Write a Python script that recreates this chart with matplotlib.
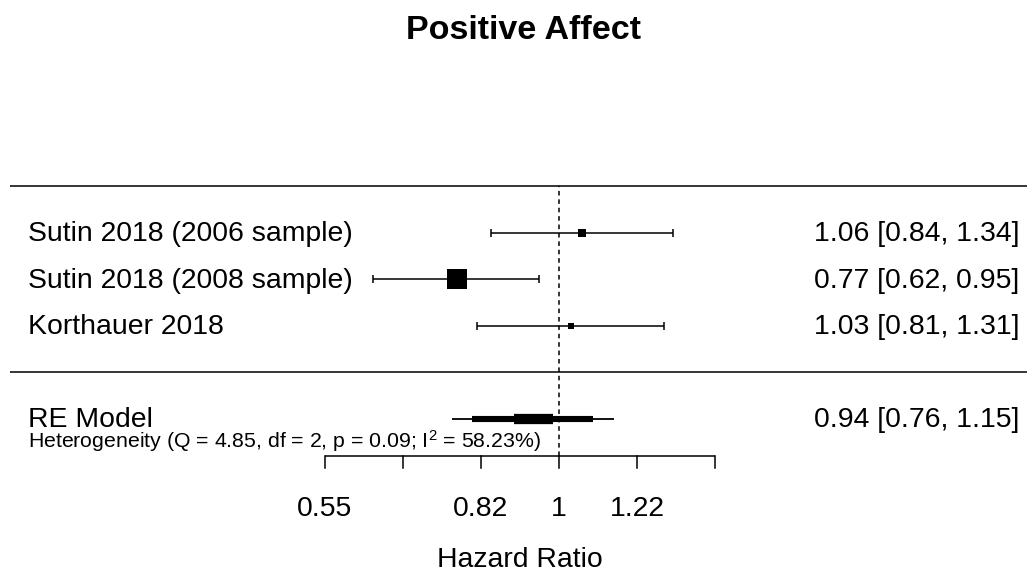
import numpy as np
import matplotlib
matplotlib.use("Agg")
import matplotlib.pyplot as plt
from matplotlib.transforms import blended_transform_factory

plt.rcParams['font.family'] = ['Liberation Sans', 'DejaVu Sans']
plt.rcParams['mathtext.fontset'] = 'custom'
plt.rcParams['mathtext.rm'] = 'Liberation Sans'
plt.rcParams['mathtext.it'] = 'Liberation Sans:italic'

# ---- data ----
title = "Positive Affect"
studies = ["Sutin 2018 (2006 sample)", "Sutin 2018 (2008 sample)", "Korthauer 2018"]
hr = [1.06, 0.77, 1.03]
ci_lo = [0.84, 0.62, 0.81]
ci_hi = [1.34, 0.95, 1.31]
rows = [3, 2, 1]
square_sizes = [6.0, 14.5, 4.3]          # marker size in points (weights)

re_label = "RE Model"
re_est = 0.94
re_ci = (0.76, 1.15)
re_mid = (0.80, 1.09)
re_inner = (0.89, 0.985)
re_row = -1
het_text = r"Heterogeneity (Q = 4.85, df = 2, p = 0.09; I$^{2}$ = 58.23%)"

tick_vals = [0.5488, 0.6703, 0.8187, 1.0, 1.2214, 1.4918]
tick_labels = ["0.55", "", "0.82", "1", "1.22", ""]
xlabel = "Hazard Ratio"

# ---- figure ----
W, H = 1027, 571
fig = plt.figure(figsize=(W / 100, H / 100), dpi=100)
ax = fig.add_axes([0, 0, 1, 1])
ax.set_xscale('log')
px0, pxu = 559.0, 390.0   # pixel of HR=1, pixels per log unit
ax.set_xlim(np.exp(-px0 / pxu), np.exp((W - px0) / pxu))
rowpx = 46.5
ax.set_ylim(4 - (H - 186) / rowpx, 4 + 186 / rowpx)
ax.axis('off')

def py(pix):
    """pixel row (from top) -> data y"""
    return 4 - (pix - 186) / rowpx

trans = blended_transform_factory(ax.transAxes, ax.transData)
fs = 20.4
base_off = 8.5 / rowpx

# horizontal separators
for r in (4, 0):
    ax.plot([10 / W, 1.0], [r, r], color='black', lw=1.1, transform=trans,
            solid_capstyle='butt')

# reference line
ybot = -1.8
ax.plot([1, 1], [ybot, 4], color='black', lw=1.1, ls=(0, (3, 2.5)))

# studies
for name, m, lo, hi, r, s in zip(studies, hr, ci_lo, ci_hi, rows, square_sizes):
    ax.errorbar([m], [r], xerr=[[m - lo], [hi - m]], fmt='none', ecolor='black',
                elinewidth=1.1, capsize=2.6, capthick=1.1)
    ax.plot([m], [r], marker='s', ms=s, color='black', mec='black', mew=0)
    ax.text(28 / W, r - base_off, name, transform=trans, ha='left', va='baseline',
            fontsize=fs)
    ax.text(1019 / W, r - base_off, f"{m:.2f} [{lo:.2f}, {hi:.2f}]", transform=trans,
            ha='right', va='baseline', fontsize=fs)

# summary
ax.plot(list(re_ci), [re_row, re_row], color='black', lw=1.3, solid_capstyle='butt')
ax.plot(list(re_mid), [re_row, re_row], color='black', lw=4.4, solid_capstyle='butt')
ax.plot(list(re_inner), [re_row, re_row], color='black', lw=7.4, solid_capstyle='butt')
ax.text(28 / W, re_row - base_off, re_label, transform=trans, ha='left',
        va='baseline', fontsize=fs)
ax.text(28 / W, py(448), het_text, transform=trans, ha='left', va='baseline',
        fontsize=15.3)
ax.text(1019 / W, re_row - base_off, f"{re_est:.2f} [{re_ci[0]:.2f}, {re_ci[1]:.2f}]",
        transform=trans, ha='right', va='baseline', fontsize=fs)

# x axis
ax.plot([tick_vals[0], tick_vals[-1]], [ybot, ybot], color='black', lw=1.1,
        solid_capstyle='butt')
tick_len = 12 / rowpx
for v, lab in zip(tick_vals, tick_labels):
    ax.plot([v, v], [ybot, ybot - tick_len], color='black', lw=1.1)
    if lab:
        ax.text(v, py(516), lab, ha='center', va='baseline', fontsize=fs)
xc = np.sqrt(tick_vals[0] * tick_vals[-1])
ax.text(xc, py(567), xlabel, ha='center', va='baseline', fontsize=fs)

fig.text(523 / W, 1 - 39 / H, title, ha='center', va='baseline', fontsize=24.5,
         fontweight='bold')

fig.savefig("out.png", dpi=100)
